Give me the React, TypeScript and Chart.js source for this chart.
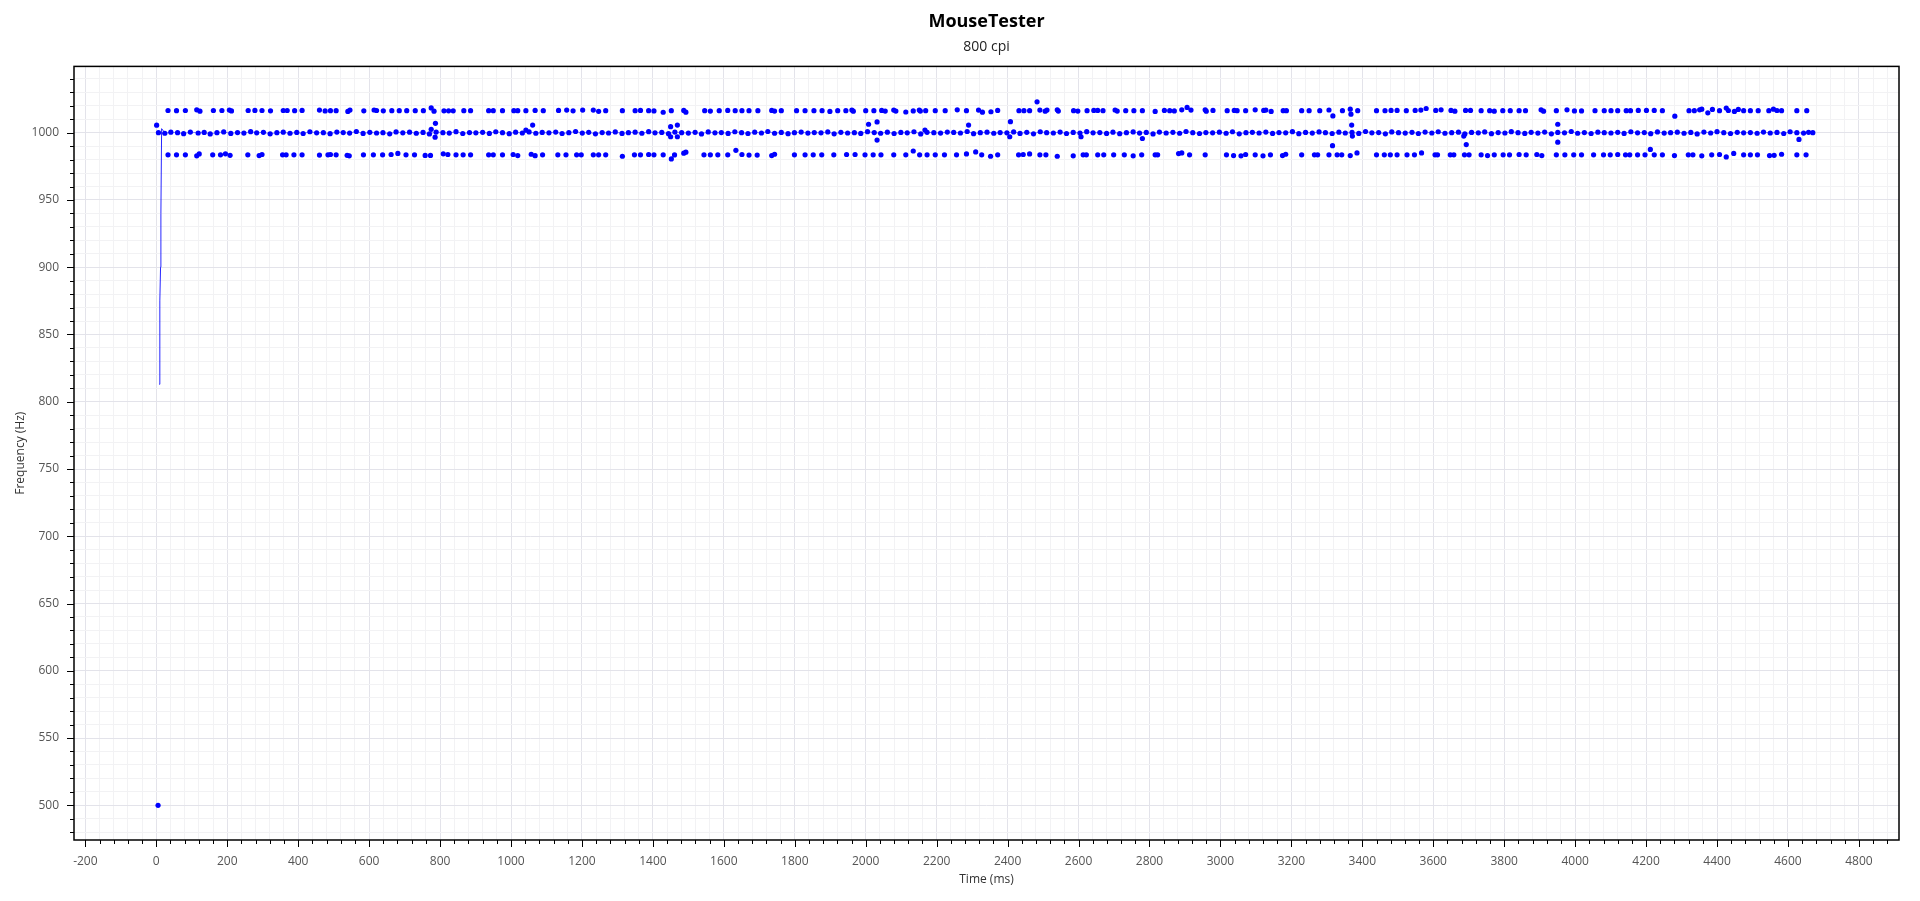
import React, { useEffect, useRef } from 'react';
import { Chart, registerables } from 'chart.js';

Chart.register(...registerables);

const chartTitle = 'MouseTester';
const chartSubtitle = '800 cpi';
const xAxisTitle = 'Time (ms)';
const yAxisTitle = 'Frequency (Hz)';

const xMin = -232;
const xMax = 4913;
const yMin = 474.2;
const yMax = 1049.3;
const xMajorStep = 200;
const xMinorStep = 40;
const yMajorStep = 50;
const yMinorStep = 10;

// initial ramp line (ms, Hz)
const startLineTimes = [8, 10, 12, 13, 15, 24];
const startLineValues = [813, 875, 900, 940, 1003, 1000];

// main band around 1000 Hz
const midTimes = [
  6, 24, 41, 60, 77, 96, 118, 135, 152, 171, 190, 210, 229, 247, 266, 283, 302, 321, 340, 358,
  377, 396, 414, 433, 452, 471, 490, 509, 527, 545, 564, 583, 602, 621, 639, 658, 676, 695, 714, 733,
  752, 770, 789, 808, 826, 845, 864, 883, 901, 920, 939, 957, 976, 995, 1013, 1032, 1051, 1070, 1088, 1107,
  1126, 1144, 1163, 1182, 1201, 1219, 1238, 1257, 1275, 1294, 1313, 1331, 1350, 1369, 1388, 1406, 1425, 1444, 1462, 1481,
  1500, 1519, 1537, 1556, 1575, 1593, 1612, 1631, 1650, 1668, 1687, 1706, 1724, 1743, 1762, 1781, 1799, 1818, 1837, 1855,
  1874, 1893, 1911, 1930, 1949, 1968, 1986, 2005, 2024, 2042, 2061, 2080, 2099, 2117, 2136, 2155, 2173, 2192, 2211, 2230,
  2248, 2267, 2286, 2304, 2323, 2342, 2361, 2379, 2398, 2417, 2435, 2454, 2473, 2492, 2510, 2529, 2548, 2566, 2585, 2604,
  2623, 2641, 2660, 2679, 2697, 2716, 2735, 2754, 2772, 2791, 2810, 2828, 2847, 2866, 2885, 2903, 2922, 2941, 2959, 2978,
  2997, 3016, 3034, 3053, 3072, 3090, 3109, 3128, 3147, 3165, 3184, 3203, 3221, 3240, 3259, 3278, 3296, 3315, 3334, 3352,
  3371, 3390, 3409, 3427, 3446, 3465, 3483, 3502, 3521, 3540, 3558, 3577, 3596, 3614, 3633, 3652, 3671, 3689, 3708, 3727,
  3745, 3764, 3783, 3802, 3820, 3839, 3858, 3876, 3895, 3914, 3933, 3951, 3970, 3989, 4007, 4026, 4045, 4064, 4082, 4101,
  4120, 4138, 4157, 4176, 4195, 4213, 4232, 4251, 4269, 4288, 4307, 4326, 4344, 4363, 4382, 4400, 4419, 4438, 4457, 4475,
  4494, 4513, 4531, 4550, 4569, 4588, 4606, 4625, 4644, 4658, 4670,
];
const midValues = [
  1000, 999.6, 1000.4, 1000, 999.3, 1000.5, 999.8, 1000.2, 999.1, 1000, 1000.6, 999.5, 1000.1, 999.7, 1000.8, 999.9, 1000.3, 999.2, 1000, 1000.4,
  999.6, 1000.2, 999.4, 1000.7, 999.9, 1000, 999.3, 1000.5, 1000.1, 999.7, 1000.9, 999.5, 1000.3, 999.8, 1000, 999.2, 1000.6, 999.9, 1000.4, 999.6,
  1000.2, 999.1, 1000.5, 1000, 999.7, 1000.8, 999.4, 1000.1, 999.9, 1000.3, 999.5, 1000.7, 1000, 999.3, 1000.4, 999.8, 1000.6, 999.6, 1000.2, 999.9,
  1000.5, 999.4, 1000, 1000.9, 999.7, 1000.3, 999.2, 1000.1, 999.8, 1000.6, 999.5, 1000, 1000.4, 999.6, 1000.8, 999.9, 1000.2, 999.3, 1000.5, 1000,
  999.7, 1000.3, 999.1, 1000.6, 999.9, 1000.1, 999.5, 1000.7, 1000, 999.4, 1000.4, 999.8, 1000.9, 999.6, 1000.2, 999.3, 1000, 1000.5, 999.7, 1000.1,
  999.9, 1000.6, 999.2, 1000.3, 999.8, 1000, 999.5, 1000.8, 1000.1, 999.6, 1000.4, 999.4, 1000.2, 999.9, 1000.7, 999.1, 1000.3, 1000, 999.7, 1000.5,
  1000.2, 999.8, 1000.9, 999.3, 1000, 1000.4, 999.6, 1000.1, 999.9, 1000.6, 999.5, 1000.3, 999.2, 1000.7, 1000, 999.8, 1000.5, 999.4, 1000.2, 999.7,
  1000.8, 999.9, 1000.1, 999.5, 1000.4, 999.3, 1000, 1000.6, 999.7, 1000.2, 999.1, 1000.5, 999.8, 1000.3, 999.6, 1000.9, 1000, 999.4, 1000.1, 999.9,
  1000.4, 999.6, 1000.7, 999.2, 1000, 1000.3, 999.8, 1000.5, 999.5, 1000.1, 999.9, 1000.8, 999.3, 1000.2, 999.7, 1000.6, 1000, 999.4, 1000.4, 999.8,
  1000.2, 999.5, 1000.9, 999.9, 1000.1, 999.2, 1000.6, 1000, 999.7, 1000.3, 999.4, 1000.5, 999.8, 1000.7, 999.6, 1000, 1000.4, 999.1, 1000.2, 999.9,
  1000.6, 999.3, 1000.1, 999.8, 1000.8, 1000, 999.5, 1000.3, 999.7, 1000.5, 999.2, 1000.2, 999.9, 1000.9, 999.6, 1000.1, 999.4, 1000.4, 1000, 999.8,
  1000.3, 999.5, 1000.7, 999.9, 1000.1, 999.3, 1000.6, 999.7, 1000, 1000.4, 999.6, 1000.2, 999.1, 1000.5, 999.8, 1000.8, 1000, 999.4, 1000.3, 999.9,
  1000.1, 999.6, 1000.5, 999.8, 1000.2, 999.4, 1000.7, 1000, 999.7, 1000.3, 1000,
];

// upper band (~1016 Hz): [ms, Hz]
const upperBand: [number, number][] = [
  [33, 1016.5], [57, 1016.4], [82, 1016.5], [114, 1017], [123, 1016], [161, 1016.5], [185, 1016.5], [206, 1016.8], [212, 1016.2], [259, 1016.5],
  [278, 1016.6], [298, 1016.5], [322, 1016.3], [358, 1016.5], [369, 1016.5], [390, 1016.4], [411, 1016.6], [460, 1016.8], [476, 1016.2], [491, 1016.4],
  [507, 1016.4], [540, 1015.8], [546, 1016.8], [585, 1016.3], [614, 1016.9], [621, 1016.5], [640, 1016.3], [664, 1016.4], [685, 1016.4], [706, 1016.4],
  [730, 1016.4], [753, 1016.4], [775, 1018.4], [783, 1016], [811, 1016.3], [824, 1016.3], [837, 1016.3], [867, 1016.4], [886, 1016.4],
  [937, 1016.4], [950, 1016.4], [976, 1016.4], [1008, 1016.4], [1019, 1016.4], [1042, 1016.4], [1068, 1016.6], [1091, 1016.4], [1134, 1016.6], [1157, 1016.8],
  [1175, 1016.3], [1202, 1016.8], [1232, 1016.8], [1247, 1015.9], [1267, 1016.4], [1314, 1016.4], [1350, 1016.4], [1365, 1016.6], [1388, 1016.4], [1403, 1016.2],
  [1429, 1015.2], [1452, 1016.4], [1487, 1016.6], [1493, 1015.3], [1546, 1016.4], [1562, 1016.1], [1587, 1016.4], [1611, 1016.6], [1632, 1016.4], [1651, 1016.4],
  [1671, 1016.4], [1696, 1016.4], [1735, 1016.6], [1743, 1016.1], [1762, 1016.4], [1805, 1016.4], [1829, 1016.4], [1854, 1016.4], [1877, 1016.4],
  [1899, 1015.8], [1921, 1016.4], [1944, 1016.4], [1961, 1016.8], [1965, 1016], [2000, 1016.4], [2023, 1016.4], [2045, 1016.6], [2055, 1016.1], [2079, 1016.8],
  [2085, 1016.1], [2113, 1015.4], [2134, 1016.2], [2151, 1016.8], [2154, 1016.1], [2169, 1016.4], [2196, 1016.4], [2224, 1016.4], [2258, 1017], [2284, 1016.4],
  [2318, 1016.8], [2329, 1015.3], [2353, 1015.6], [2372, 1016.6], [2432, 1016.4], [2446, 1016.4], [2462, 1016.4], [2483, 1023], [2491, 1016.8], [2506, 1016],
  [2511, 1016.8], [2540, 1017], [2543, 1016.1], [2586, 1016.4], [2598, 1016.1], [2624, 1016.4], [2643, 1016.6], [2654, 1016.6], [2669, 1016.4], [2703, 1016.9],
  [2709, 1016.1], [2733, 1016.4], [2756, 1016.4], [2780, 1016.4], [2816, 1015.8], [2842, 1016.6],
  [2857, 1016.4], [2870, 1016.2], [2891, 1017], [2906, 1018.8], [2917, 1016.8], [2957, 1017], [2960, 1016], [2979, 1016.6], [3019, 1016.4], [3039, 1016.6],
  [3047, 1016.4], [3071, 1016.4], [3098, 1017], [3122, 1016.6], [3128, 1016.8], [3143, 1015.8], [3177, 1016.4], [3186, 1016.4], [3229, 1016.4], [3250, 1016.4],
  [3280, 1016.4], [3306, 1016.9], [3317, 1012.5], [3344, 1016.4], [3366, 1017.5], [3368, 1013.8], [3387, 1016.4], [3440, 1016.4], [3464, 1016.4], [3481, 1016.6],
  [3498, 1016.6], [3524, 1016.4], [3549, 1016.6], [3565, 1016.8], [3580, 1018], [3607, 1016.6], [3622, 1017], [3650, 1016.6], [3661, 1016], [3691, 1016.6],
  [3705, 1016.6], [3735, 1016.4], [3759, 1016.4], [3772, 1016], [3796, 1016.4],
  [3817, 1016.4], [3842, 1016.4], [3860, 1016.4], [3904, 1017], [3911, 1016], [3947, 1016.4], [3977, 1017], [3998, 1016.2], [4018, 1016.2], [4056, 1016.4],
  [4082, 1016.4], [4101, 1016.4], [4120, 1016.4], [4144, 1016.4], [4156, 1016.4], [4178, 1016.6], [4201, 1016.6], [4223, 1016.6], [4246, 1016.4], [4281, 1012.3],
  [4321, 1016.4], [4336, 1016.4], [4351, 1017], [4357, 1017.5], [4374, 1014.8], [4387, 1017.3], [4407, 1016.4], [4426, 1018.3], [4432, 1016.5], [4449, 1015.8],
  [4460, 1017.3], [4475, 1016.4], [4494, 1016.4], [4516, 1016.4], [4546, 1016.4], [4559, 1017.5], [4569, 1016.5], [4582, 1016.4], [4625, 1016.4], [4653, 1016.4],
];

// lower band (~984 Hz): [ms, Hz]
const lowerBand: [number, number][] = [
  [33, 983.6], [57, 983.6], [82, 983.6], [114, 982.8], [121, 984.2], [159, 983.6], [181, 983.6], [195, 984.3], [208, 983.2], [258, 983.6],
  [290, 983], [298, 983.8], [356, 983.6], [366, 983.6], [388, 983.6], [411, 983.6], [460, 983.4], [484, 983.6], [491, 983.8], [507, 983.6],
  [538, 983.2], [544, 982.8], [584, 983.6], [612, 983.6], [638, 983.6], [662, 983.8], [681, 984.6], [704, 983.6], [728, 983.6], [758, 983.1],
  [773, 983.1], [809, 984.3], [822, 983.8], [845, 983.6], [865, 983.6], [886, 983.6],
  [937, 983.6], [950, 983.6], [976, 983.6], [1006, 983.8], [1019, 983], [1057, 984], [1068, 982.9], [1089, 983.6], [1132, 983.6], [1155, 983.6],
  [1185, 983.6], [1198, 983.6], [1232, 983.6], [1247, 983.6], [1267, 983.6], [1314, 982.5], [1348, 983.6], [1365, 983.6], [1388, 983.8], [1403, 983.6],
  [1429, 983.6], [1452, 980.5], [1461, 983.5], [1487, 984.8], [1493, 985.5], [1544, 983.6], [1562, 983.6], [1583, 983.6], [1611, 983.6], [1634, 986.9],
  [1651, 983.8], [1671, 983.4], [1694, 983.4], [1735, 983], [1743, 984], [1799, 983.6], [1829, 983.6], [1852, 983.6], [1876, 983.6],
  [1910, 983.6], [1946, 983.8], [1970, 983.8], [1998, 983.6], [2021, 983.6], [2043, 983.6], [2079, 983.6], [2113, 983.6], [2134, 986.4], [2152, 983.6],
  [2173, 983.6], [2196, 983.6], [2222, 983.6], [2256, 983.6], [2284, 984.2], [2310, 985.7], [2327, 983.6], [2352, 982.5], [2372, 983.6], [2431, 983.6],
  [2444, 983.8], [2462, 984.2], [2491, 983.6], [2508, 983.6], [2540, 982.5], [2585, 982.8], [2613, 983.6], [2622, 983.6], [2654, 983.6], [2671, 983.6],
  [2699, 983.6], [2729, 983.6], [2754, 982.8], [2778, 983.6], [2816, 983.6], [2823, 983.6],
  [2882, 984.5], [2891, 985], [2913, 983.6], [2957, 983.6], [3017, 983.6], [3037, 983], [3058, 982.8], [3071, 983.8], [3098, 983.6], [3120, 982.8],
  [3141, 983.6], [3175, 983], [3184, 984], [3229, 983.6], [3265, 983.6], [3274, 983.6], [3306, 983.6], [3329, 983.6], [3342, 983.6], [3366, 983],
  [3385, 985], [3440, 983.6], [3462, 983.6], [3479, 983.6], [3498, 983.6], [3526, 983.6], [3547, 983.6], [3567, 985], [3605, 983.6], [3612, 983.6],
  [3648, 983.6], [3658, 983.6], [3688, 983.6], [3701, 983.6], [3735, 983.6], [3753, 983], [3772, 983.6], [3797, 983.6],
  [3815, 983.6], [3842, 983.8], [3862, 983.6], [3892, 983.8], [3906, 983], [3947, 983.6], [3971, 983.6], [3996, 983.6], [4018, 983.6], [4052, 983.6],
  [4080, 983.6], [4099, 983.6], [4120, 983.8], [4142, 983.6], [4154, 983.6], [4176, 983.6], [4197, 983.6], [4212, 987.6], [4223, 983.6], [4246, 983.6],
  [4280, 983], [4319, 983.6], [4332, 983.6], [4357, 982.8], [4385, 983.6], [4407, 983.8], [4426, 982], [4447, 984.6], [4475, 983.6], [4494, 983.6],
  [4514, 983.6], [4548, 983], [4561, 983.2], [4582, 984], [4625, 983.6], [4651, 983.6],
];

// isolated points off the bands: [ms, Hz]
const outliers: [number, number][] = [
  [1, 1005.6], [5, 500], [775, 1002.5], [787, 1007], [786, 996.7], [1042, 1002], [1061, 1005.7], [1450, 1004.5], [1469, 1005.7], [1450, 997],
  [1469, 997], [2008, 1006.3], [2032, 1008], [2032, 994.5], [2167, 1002], [2290, 1005.7], [2408, 1008.2], [2406, 997], [2607, 997], [2780, 995.7],
  [3316, 990.4], [3370, 1005.7], [3372, 997.5], [3693, 991.2], [3686, 997.5], [3951, 1006.3], [3951, 993], [4631, 995],
];

const FONT = "'Open Sans', 'Noto Sans', 'DejaVu Sans', sans-serif";
const POINT_COLOR = '#0000ff';
const MAJOR_GRID = '#e3e3ea';
const MINOR_GRID = '#f2f2f4';

function isMajor(v: any, step: number) {
  if (typeof v !== 'number') return false;
  const r = v / step;
  return Math.abs(r - Math.round(r)) < 1e-6;
}

function zip(t: number[], v: number[]) {
  const n = Math.min(t.length, v.length);
  const out: { x: number; y: number }[] = [];
  for (let i = 0; i < n; i++) out.push({ x: t[i], y: v[i] });
  return out;
}

function toPoints(arr: [number, number][]) {
  return arr.map(([x, y]) => ({ x, y }));
}

const framePlugin = {
  id: 'frameAndTicks',
  afterDraw(chart: any) {
    const { ctx, chartArea: a, scales } = chart;
    const xs = scales.x;
    const ys = scales.y;
    ctx.save();
    ctx.strokeStyle = '#000';
    ctx.lineWidth = 1;
    ctx.beginPath();
    for (const t of xs.ticks) {
      const px = Math.round(xs.getPixelForValue(t.value)) + 0.5;
      const len = isMajor(t.value, xMajorStep) ? 7 : 4;
      ctx.moveTo(px, a.bottom);
      ctx.lineTo(px, a.bottom + len);
    }
    for (const t of ys.ticks) {
      const py = Math.round(ys.getPixelForValue(t.value)) + 0.5;
      const len = isMajor(t.value, yMajorStep) ? 7 : 4;
      ctx.moveTo(a.left - len, py);
      ctx.lineTo(a.left, py);
    }
    ctx.stroke();
    ctx.lineWidth = 1.5;
    ctx.strokeRect(a.left, a.top, a.right - a.left, a.bottom - a.top);
    ctx.restore();
  },
};

export default function App() {
  const canvasRef = useRef<HTMLCanvasElement | null>(null);

  useEffect(() => {
    document.body.style.margin = '0';
    const canvas = canvasRef.current;
    if (!canvas) return;

    const pointStyle = {
      showLine: false,
      pointRadius: 2.6,
      pointHoverRadius: 2.6,
      pointBackgroundColor: POINT_COLOR,
      pointBorderWidth: 0,
      borderColor: POINT_COLOR,
      backgroundColor: POINT_COLOR,
    };

    const chart = new Chart(canvas, {
      type: 'scatter',
      data: {
        datasets: [
          {
            label: 'start',
            data: zip(startLineTimes, startLineValues),
            showLine: true,
            borderColor: 'rgba(0,0,255,0.85)',
            borderWidth: 1,
            pointRadius: 0,
          } as any,
          {
            label: 'main',
            data: zip(midTimes, midValues),
            ...pointStyle,
            showLine: true,
            borderColor: 'rgba(0,0,255,0.45)',
            borderWidth: 1,
          } as any,
          { label: 'upper', data: toPoints(upperBand), ...pointStyle } as any,
          { label: 'lower', data: toPoints(lowerBand), ...pointStyle } as any,
          { label: 'other', data: toPoints(outliers), ...pointStyle } as any,
        ],
      },
      options: {
        responsive: false,
        animation: false,
        events: [],
        layout: { padding: { top: 0, right: 21, bottom: 0, left: 0 } },
        plugins: {
          legend: { display: false },
          tooltip: { enabled: false },
          title: {
            display: true,
            text: chartTitle,
            fullSize: false,
            color: '#000',
            font: { family: FONT, size: 18, weight: 'bold' },
            padding: { top: 11, bottom: 4 },
          },
          subtitle: {
            display: true,
            text: chartSubtitle,
            fullSize: false,
            color: '#222',
            font: { family: FONT, size: 14, weight: 'normal' },
            padding: { top: 2, bottom: 11 },
          },
        },
        scales: {
          x: {
            type: 'linear',
            position: 'bottom',
            min: xMin,
            max: xMax,
            afterFit: (s: any) => {
              s.height = 61;
            },
            border: { display: false },
            grid: {
              drawTicks: false,
              lineWidth: 1,
              color: (c: any) => (c.tick && isMajor(c.tick.value, xMajorStep) ? MAJOR_GRID : MINOR_GRID),
            },
            ticks: {
              stepSize: xMinorStep,
              includeBounds: false,
              autoSkip: false,
              maxRotation: 0,
              minRotation: 0,
              padding: 14,
              color: '#555',
              font: { family: FONT, size: 12 },
              callback: (v: any) => (isMajor(v, xMajorStep) ? String(Math.round(v)) : ''),
            },
            title: {
              display: true,
              text: xAxisTitle,
              color: '#333',
              font: { family: FONT, size: 12 },
              padding: { top: 0, bottom: 14 },
            },
          },
          y: {
            type: 'linear',
            position: 'left',
            min: yMin,
            max: yMax,
            afterFit: (s: any) => {
              s.width = 74;
            },
            border: { display: false },
            grid: {
              drawTicks: false,
              lineWidth: 1,
              color: (c: any) => (c.tick && isMajor(c.tick.value, yMajorStep) ? MAJOR_GRID : MINOR_GRID),
            },
            ticks: {
              stepSize: yMinorStep,
              includeBounds: false,
              autoSkip: false,
              padding: 15,
              color: '#555',
              font: { family: FONT, size: 12 },
              callback: (v: any) => (isMajor(v, yMajorStep) ? String(Math.round(v)) : ''),
            },
            title: {
              display: true,
              text: yAxisTitle,
              color: '#333',
              font: { family: FONT, size: 12 },
              padding: { top: 13, bottom: 0 },
            },
          },
        },
      } as any,
      plugins: [framePlugin],
    });

    return () => chart.destroy();
  }, []);

  return (
    <div style={{ position: 'absolute', left: 0, top: 0, width: 1920, height: 901, background: '#fff' }}>
      <canvas ref={canvasRef} width={1920} height={901} style={{ display: 'block', width: 1920, height: 901 }} />
    </div>
  );
}
